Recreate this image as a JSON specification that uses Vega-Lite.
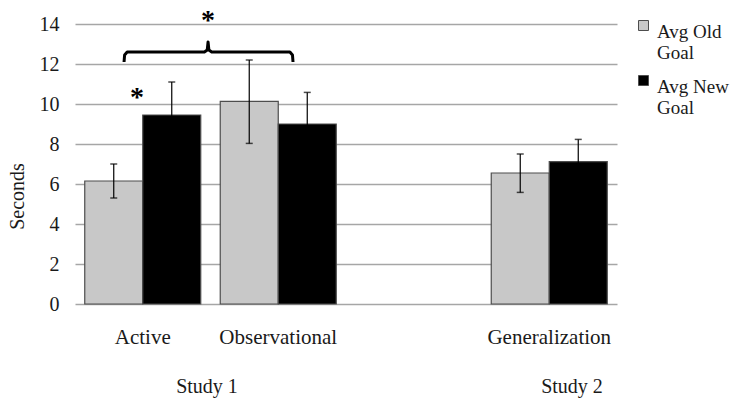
{
  "$schema": "https://vega.github.io/schema/vega-lite/v6.json",
  "width": 542,
  "height": 280,
  "autosize": {"type": "none"},
  "padding": {"left": 75, "top": 24, "right": 116, "bottom": 103},
  "background": "white",
  "config": {
    "view": {"stroke": null},
    "font": "Liberation Serif",
    "style": {"guide-label": {"lineHeight": 21}},
    "axis": {"labelFont": "Liberation Serif", "titleFont": "Liberation Serif", "labelColor": "#1a1a1a", "titleColor": "#1a1a1a", "titleFontWeight": "normal"},
    "axisY": {"grid": true, "gridColor": "#a6a6a6", "gridWidth": 1.5, "ticks": false, "domain": false, "labelFontSize": 20, "labelPadding": 16, "titleFontSize": 20, "labelOverlap": false},
    "legend": {"labelFont": "Liberation Serif"}
  },
  "datasets": {
    "bars": [
      {"condition": "Active", "goal": "Avg Old Goal", "mean": 6.15, "lo": 5.3, "hi": 7.0},
      {"condition": "Active", "goal": "Avg New Goal", "mean": 9.45, "lo": 7.8, "hi": 11.1},
      {"condition": "Observational", "goal": "Avg Old Goal", "mean": 10.13, "lo": 8.03, "hi": 12.2},
      {"condition": "Observational", "goal": "Avg New Goal", "mean": 9.0, "lo": 7.42, "hi": 10.58},
      {"condition": "Generalization", "goal": "Avg Old Goal", "mean": 6.55, "lo": 5.58, "hi": 7.5},
      {"condition": "Generalization", "goal": "Avg New Goal", "mean": 7.12, "lo": 6.0, "hi": 8.23}
    ],
    "brace": [
      {"i": 0, "bx": 0.362, "by": 12.1},
      {"i": 1, "bx": 0.366, "by": 12.45},
      {"i": 2, "bx": 0.385, "by": 12.6},
      {"i": 3, "bx": 0.955, "by": 12.6},
      {"i": 4, "bx": 0.976, "by": 12.7},
      {"i": 5, "bx": 0.982, "by": 13.1},
      {"i": 6, "bx": 0.988, "by": 12.7},
      {"i": 7, "bx": 1.009, "by": 12.6},
      {"i": 8, "bx": 1.586, "by": 12.6},
      {"i": 9, "bx": 1.605, "by": 12.45},
      {"i": 10, "bx": 1.609, "by": 12.1}
    ],
    "stars": [
      {"sx": 0.982, "sy": 13.75, "label": "*"},
      {"sx": 0.458, "sy": 9.9, "label": "*"}
    ],
    "studies": [
      {"sx": 0.974, "sy": -4.15, "label": "Study 1"},
      {"sx": 3.668, "sy": -4.15, "label": "Study 2"}
    ]
  },
  "layer": [
    {
      "data": {"name": "bars"},
      "encoding": {
        "x": {"field": "condition", "type": "nominal", "scale": {"domain": ["Active", "Observational", "gap", "Generalization"], "paddingInner": 0, "paddingOuter": 0},
              "axis": {"title": null, "labelExpr": "datum.value == 'gap' ? '' : datum.label", "ticks": false, "domain": false, "labelPadding": 22, "labelFontSize": 21, "labelAngle": 0, "grid": false}},
        "xOffset": {"field": "goal", "type": "nominal", "scale": {"domain": ["Avg Old Goal", "Avg New Goal"], "paddingOuter": 0.168, "paddingInner": 0}}
      },
      "layer": [
        {
          "mark": {"type": "bar", "stroke": "#4d4d4d", "strokeWidth": 1.2},
          "encoding": {
            "y": {"field": "mean", "type": "quantitative", "scale": {"domain": [0, 14], "nice": false},
                  "axis": {"title": "Seconds", "values": [0, 2, 4, 6, 8, 10, 12, 14], "titleAngle": -90, "titleX": -58, "titleY": 172, "titleAlign": "center", "titleBaseline": "middle"}},
            "color": {"field": "goal", "type": "nominal", "scale": {"domain": ["Avg Old Goal", "Avg New Goal"], "range": ["#c8c8c8", "#000000"]},
                      "legend": {"title": null, "orient": "none", "legendX": 559, "legendY": -11, "labelFontSize": 19, "labelColor": "#1a1a1a", "symbolType": "M-1,-0.4L1,-0.4L1,1.6L-1,1.6Z", "symbolSize": 100, "symbolStrokeColor": "#4d4d4d", "symbolStrokeWidth": 1, "labelBaseline": "top", "rowPadding": 5, "labelOffset": 4, "labelLimit": 0, "padding": 0,
                                 "labelExpr": "datum.label == 'Avg Old Goal' ? ['Avg Old', 'Goal'] : ['Avg New', 'Goal']"}}
          }
        },
        {
          "mark": {"type": "rule", "color": "#000000", "strokeWidth": 1.2},
          "encoding": {
            "y": {"field": "lo", "type": "quantitative", "title": "Seconds", "axis": {"values": [0, 2, 4, 6, 8, 10, 12, 14]}},
            "y2": {"field": "hi"}
          }
        },
        {
          "mark": {"type": "tick", "color": "#000000", "thickness": 1.5, "size": 7},
          "encoding": {"y": {"field": "hi", "type": "quantitative", "title": "Seconds", "axis": {"values": [0, 2, 4, 6, 8, 10, 12, 14]}}}
        },
        {
          "mark": {"type": "tick", "color": "#000000", "thickness": 1.5, "size": 7},
          "encoding": {"y": {"field": "lo", "type": "quantitative", "title": "Seconds", "axis": {"values": [0, 2, 4, 6, 8, 10, 12, 14]}}}
        }
      ]
    },
    {
      "layer": [
        {
          "data": {"name": "brace"},
          "mark": {"type": "line", "color": "#000000", "strokeWidth": 3, "strokeJoin": "round"},
          "encoding": {
            "x": {"field": "bx", "type": "quantitative", "scale": {"domain": [0, 4], "nice": false, "zero": false}, "axis": null},
            "y": {"field": "by", "type": "quantitative", "title": "Seconds", "axis": {"values": [0, 2, 4, 6, 8, 10, 12, 14]}},
            "order": {"field": "i", "type": "quantitative"}
          }
        },
        {
          "data": {"name": "stars"},
          "mark": {"type": "text", "fontSize": 28, "fontWeight": "bold", "color": "#000000", "align": "center", "baseline": "alphabetic"},
          "encoding": {
            "x": {"field": "sx", "type": "quantitative", "scale": {"domain": [0, 4], "nice": false, "zero": false}, "axis": null},
            "y": {"field": "sy", "type": "quantitative", "title": "Seconds", "axis": {"values": [0, 2, 4, 6, 8, 10, 12, 14]}},
            "text": {"field": "label"}
          }
        },
        {
          "data": {"name": "studies"},
          "mark": {"type": "text", "fontSize": 20, "color": "#1a1a1a", "align": "center", "baseline": "middle"},
          "encoding": {
            "x": {"field": "sx", "type": "quantitative", "scale": {"domain": [0, 4], "nice": false, "zero": false}, "axis": null},
            "y": {"field": "sy", "type": "quantitative", "title": "Seconds", "axis": {"values": [0, 2, 4, 6, 8, 10, 12, 14]}},
            "text": {"field": "label"}
          }
        }
      ]
    }
  ],
  "resolve": {"scale": {"x": "independent"}}
}
